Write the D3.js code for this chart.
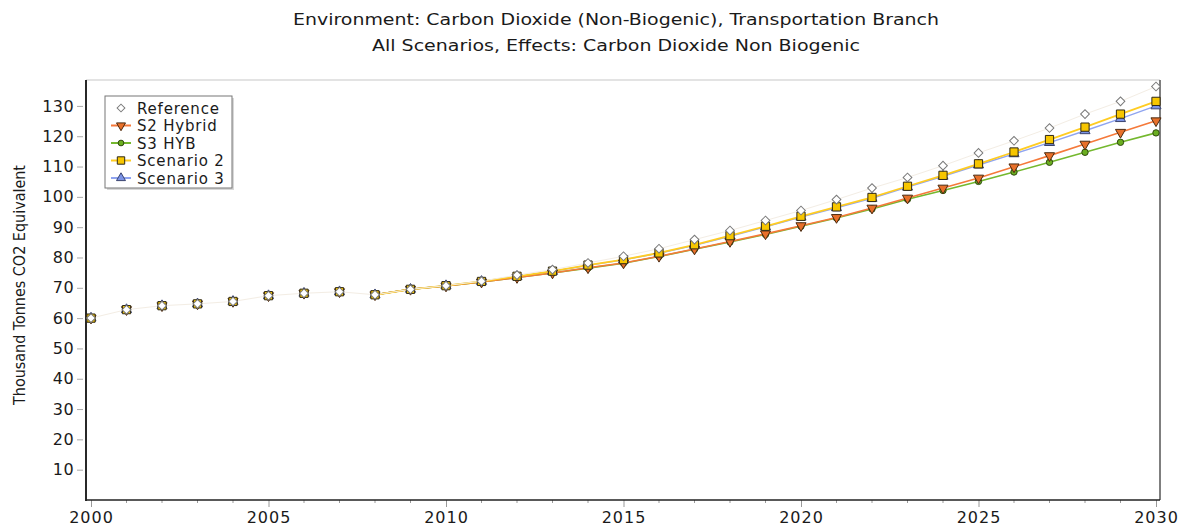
<!DOCTYPE html>
<html>
<head>
<meta charset="utf-8">
<script src="https://cdn.jsdelivr.net/npm/d3@7"></script>
<style>
  html, body { margin: 0; padding: 0; background: #fff; }
  svg { display: block; }
  text { font-family: "DejaVu Sans", Verdana, sans-serif; fill: #1a1a1a; }
</style>
</head>
<body>
<svg id="chart" width="1178" height="529"></svg>
<script>
// ---------------- DATA ----------------
const years = d3.range(2000, 2031);
const titleLines = [
  "Environment: Carbon Dioxide (Non-Biogenic), Transportation Branch",
  "All Scenarios, Effects: Carbon Dioxide Non Biogenic"
];
const yLabel = "Thousand Tonnes CO2 Equivalent";
const xTicks = [2000, 2005, 2010, 2015, 2020, 2025, 2030];
const yTicks = [10, 20, 30, 40, 50, 60, 70, 80, 90, 100, 110, 120, 130];
const scenarioStart = 2008;

const reference = [60.0, 62.8, 64.1, 64.7, 65.5, 67.4, 68.2, 68.7, 67.7, 69.5,
  70.7, 72.2, 74.2, 76.0, 78.2, 80.4, 82.9, 85.9, 88.9, 92.2,
  95.5, 99.1, 102.9, 106.4, 110.3, 114.5, 118.5, 122.7, 127.3, 131.5, 136.4];
const s2Hybrid = [60.0, 62.8, 64.1, 64.7, 65.5, 67.4, 68.2, 68.7, 67.7, 69.5,
  70.6, 71.9, 73.4, 74.9, 76.6, 78.2, 80.4, 82.8, 85.3, 87.8,
  90.5, 93.2, 96.3, 99.6, 102.9, 106.2, 109.9, 113.6, 117.4, 121.3, 125.1];
const s3Hyb = [60.0, 62.8, 64.1, 64.7, 65.5, 67.4, 68.2, 68.7, 67.7, 69.5,
  70.6, 71.9, 73.4, 74.9, 76.5, 78.1, 80.3, 82.7, 85.1, 87.6,
  90.3, 93.0, 96.0, 99.2, 102.1, 105.1, 108.2, 111.4, 114.7, 118.0, 121.1];
const scenario2 = [60.0, 62.8, 64.1, 64.7, 65.5, 67.4, 68.2, 68.7, 67.7, 69.5,
  70.7, 72.1, 73.8, 75.5, 77.5, 79.3, 81.5, 84.2, 87.2, 90.3,
  93.6, 96.7, 99.8, 103.5, 107.1, 110.9, 114.8, 118.9, 123.0, 127.3, 131.5];
const scenario3 = [60.0, 62.8, 64.1, 64.7, 65.5, 67.4, 68.2, 68.7, 67.7, 69.5,
  70.7, 72.1, 73.7, 75.4, 77.4, 79.2, 81.4, 84.0, 87.0, 90.1,
  93.3, 96.4, 99.5, 103.2, 106.8, 110.5, 114.2, 117.9, 121.8, 125.8, 130.0];

const seriesNames = ["Reference", "S2 Hybrid", "S3 HYB", "Scenario 2", "Scenario 3"];
const seriesValues = [reference, s2Hybrid, s3Hyb, scenario2, scenario3];

// ---------------- STYLE ----------------
const styles = {
  "Reference":  { line: "#f3ede4", fill: "#ffffff", stroke: "#7a7a7a", sym: d3.symbolSquare, size: 38, lw: 1, rot: 45 },
  "S2 Hybrid":  { line: "#f5793a", fill: "#e8702a", stroke: "#4a2a10", sym: d3.symbolTriangle, size: 44, lw: 1.6, rot: 180 },
  "S3 HYB":     { line: "#74b82e", fill: "#6aae20", stroke: "#2f4a10", sym: d3.symbolCircle, size: 32, lw: 1.6 },
  "Scenario 2": { line: "#ffcc22", fill: "#f7c600", stroke: "#2e2818", sym: d3.symbolSquare, size: 68, lw: 1.8 },
  "Scenario 3": { line: "#8fa4f0", fill: "#7b93e6", stroke: "#3a4470", sym: d3.symbolTriangle, size: 44, lw: 1.4 }
};
const drawOrder = ["Scenario 3", "S3 HYB", "S2 Hybrid", "Scenario 2", "Reference"];

// ---------------- CHART ----------------
const svg = d3.select("#chart");
const frame = { left: 86, right: 1160, top: 80, bottom: 500 };
const x = d3.scaleLinear().domain([2000, 2030]).range([91, 1156]);
const y = d3.scaleLinear().domain([0, 138.55]).range([500, 80]);

// titles
const titleWidths = [646, 488];
svg.selectAll("text.title").data(titleLines).join("text")
  .attr("class", "title")
  .attr("x", (d, i) => [293, 372][i]).attr("y", (d, i) => 25 + i * 26)
  .attr("textLength", (d, i) => titleWidths[i])
  .attr("lengthAdjust", "spacingAndGlyphs")
  .style("font-size", "16px")
  .text(d => d);

// frame
svg.append("line").attr("x1", frame.left).attr("x2", frame.right).attr("y1", frame.top).attr("y2", frame.top)
  .attr("stroke", "#c8c8c8").attr("stroke-width", 1.2);
svg.append("line").attr("x1", frame.right).attr("x2", frame.right).attr("y1", frame.top).attr("y2", frame.bottom)
  .attr("stroke", "#555").attr("stroke-width", 1.5);

// y axis
const yAxis = svg.append("g").attr("transform", `translate(${frame.left},0)`)
  .call(d3.axisLeft(y).tickValues(yTicks).tickSize(9).tickPadding(3).tickSizeOuter(0));
yAxis.select(".domain").remove();
yAxis.selectAll(".tick line").attr("stroke", "#aaa").attr("x2", -3).attr("x1", -9);
yAxis.selectAll(".tick text").style("font-size", "16px").style("letter-spacing", "0.4px")
  .attr("fill", "#1a1a1a").attr("x", -12);

// x axis
const xAxis = svg.append("g").attr("transform", `translate(0,${frame.bottom})`)
  .call(d3.axisBottom(x).tickValues(xTicks).tickFormat(d3.format("d")).tickSize(7).tickPadding(5).tickSizeOuter(0));
xAxis.select(".domain").remove();
xAxis.selectAll(".tick line").attr("stroke", "#999");
xAxis.selectAll(".tick text").style("font-size", "16px").style("letter-spacing", "1px")
  .attr("fill", "#1a1a1a");
svg.append("g").selectAll("line").data(years.filter(yr => yr % 5 !== 0)).join("line")
  .attr("x1", d => x(d)).attr("x2", d => x(d)).attr("y1", frame.bottom).attr("y2", frame.bottom + 3)
  .attr("stroke", "#999");

// left & bottom axis lines
svg.append("line").attr("x1", frame.left).attr("x2", frame.left).attr("y1", frame.top).attr("y2", frame.bottom + 1)
  .attr("stroke", "#111").attr("stroke-width", 1.8);
svg.append("line").attr("x1", frame.left).attr("x2", frame.right).attr("y1", frame.bottom).attr("y2", frame.bottom)
  .attr("stroke", "#222").attr("stroke-width", 1.6);

// y label
svg.append("text")
  .attr("transform", `translate(25,${(frame.top + frame.bottom) / 2 - 5}) rotate(-90)`)
  .attr("text-anchor", "middle")
  .attr("textLength", 240)
  .attr("lengthAdjust", "spacingAndGlyphs")
  .style("font-size", "16px")
  .style("font-family", "'DejaVu Sans Condensed', 'DejaVu Sans', sans-serif")
  .text(yLabel);

// series
const line = d3.line().x(d => x(d.year)).y(d => y(d.value));
drawOrder.forEach(name => {
  const idx = seriesNames.indexOf(name);
  const st = styles[name];
  const pts = years.map((yr, i) => ({ year: yr, value: seriesValues[idx][i] }));
  const linePts = name === "Reference" ? pts : pts.filter(p => p.year >= scenarioStart);
  svg.append("path").datum(linePts)
    .attr("d", line).attr("fill", "none")
    .attr("stroke", st.line).attr("stroke-width", st.lw);
});
drawOrder.forEach(name => {
  const idx = seriesNames.indexOf(name);
  const st = styles[name];
  const pts = years.map((yr, i) => ({ year: yr, value: seriesValues[idx][i] }));
  const sym = d3.symbol().type(st.sym).size(st.size);
  svg.append("g").selectAll("path").data(pts).join("path")
    .attr("d", sym)
    .attr("transform", d => `translate(${x(d.year)},${y(d.value)}) rotate(${st.rot || 0})`)
    .attr("fill", st.fill).attr("stroke", st.stroke).attr("stroke-width", 1);
});

// legend
const lg = svg.append("g").attr("transform", "translate(105,96)");
lg.append("rect").attr("x", 2).attr("y", 2).attr("width", 127).attr("height", 92).attr("fill", "#d8d8d8");
lg.append("rect").attr("width", 127).attr("height", 92).attr("fill", "#fff").attr("stroke", "#777");
seriesNames.forEach((name, i) => {
  const st = styles[name];
  const gy = 12 + i * 17.5;
  const row = lg.append("g").attr("transform", `translate(0,${gy})`);
  if (name !== "Reference") {
    row.append("line").attr("x1", 6).attr("x2", 26).attr("y1", 0).attr("y2", 0)
      .attr("stroke", st.line).attr("stroke-width", 2);
  }
  row.append("path").attr("d", d3.symbol().type(st.sym).size(st.size * 0.8))
    .attr("transform", `translate(16,0) rotate(${st.rot || 0})`)
    .attr("fill", st.fill).attr("stroke", st.stroke).attr("stroke-width", 1);
  row.append("text").attr("x", 32).attr("y", 5.5).style("font-size", "15px")
    .style("letter-spacing", "0.8px").text(name);
});
</script>
</body>
</html>
